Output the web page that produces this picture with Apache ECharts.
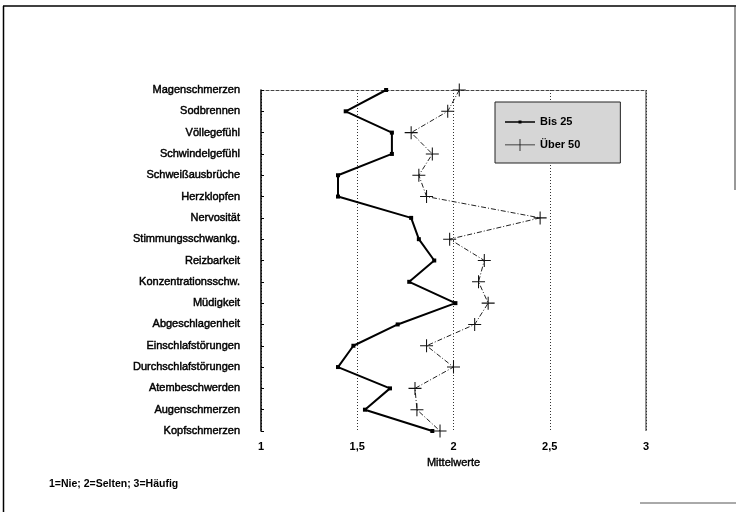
<!DOCTYPE html>
<html lang="de">
<head>
<meta charset="UTF-8">
<title>Mittelwerte</title>
<style>
  * { margin: 0; padding: 0; }
  body { background: #fff; }
  #chart { width: 736px; height: 512px; }
</style>
</head>
<body>
<div id="chart"></div>
<script src="https://cdn.jsdelivr.net/npm/echarts@6/dist/echarts.min.js"></script>
<script>
// Beschwerden, von oben nach unten
var beschwerden = ['Magenschmerzen', 'Sodbrennen', 'Völlegefühl', 'Schwindelgefühl',
  'Schweißausbrüche', 'Herzklopfen', 'Nervosität', 'Stimmungsschwankg.', 'Reizbarkeit',
  'Konzentrationsschw.', 'Müdigkeit', 'Abgeschlagenheit', 'Einschlafstörungen',
  'Durchschlafstörungen', 'Atembeschwerden', 'Augenschmerzen', 'Kopfschmerzen'];

var bis25 = [1.65, 1.44, 1.68, 1.68, 1.40, 1.40, 1.78, 1.82, 1.90, 1.77, 2.01, 1.71, 1.48, 1.40, 1.67, 1.54, 1.89];
var ueber50 = [2.03, 1.97, 1.78, 1.89, 1.82, 1.86, 2.45, 1.98, 2.16, 2.13, 2.18, 2.11, 1.86, 2.00, 1.80, 1.81, 1.93];

var xTicks = [1, 1.5, 2, 2.5, 3];

var plusIcon = 'path://M0,4.6h10v0.8h-10z M4.6,0h0.8v10h-0.8z';
// Legendensymbole (30x12)
var iconBis25 = 'path://M0,0 M30,12 M0,5.3h30v1.4h-30z M13.5,4.5h3v3h-3z';
var iconUeber50 = 'path://M0,5.5h30v0.8h-30z M14.6,0h0.8v12h-0.8z';

var chart = echarts.init(document.getElementById('chart'));

chart.setOption({
  animation: false,
  textStyle: { fontFamily: 'Liberation Sans, Arial, sans-serif' },
  title: {
    text: '1=Nie; 2=Selten; 3=Häufig',
    left: 49,
    top: 479,
    padding: 0,
    textStyle: { fontSize: 10.5, fontWeight: 'bold', color: '#000' }
  },
  grid: { left: 261, right: 90, top: 90, bottom: 81 },
  legend: {
    orient: 'vertical',
    left: 495,
    top: 102,
    padding: [14, 40, 12, 10],
    itemGap: 11,
    itemWidth: 30,
    itemHeight: 12,
    backgroundColor: '#d6d6d6',
    borderColor: '#222',
    borderWidth: 1,
    borderRadius: 0,
    textStyle: { fontSize: 11, fontWeight: 'bold', color: '#000' },
    data: [
      { name: 'Bis 25', icon: iconBis25, itemStyle: { color: '#000' } },
      { name: 'Über 50', icon: iconUeber50, itemStyle: { color: '#111' } }
    ]
  },
  xAxis: [{
    type: 'value',
    min: 1,
    max: 3,
    interval: 0.5,
    name: 'Mittelwerte',
    nameLocation: 'middle',
    nameGap: 26,
    nameTextStyle: { fontSize: 11, color: '#000', textBorderColor: '#000', textBorderWidth: 0.4 },
    axisLine: { lineStyle: { color: '#000', width: 1.5 } },
    axisTick: { show: false },
    axisLabel: {
      margin: 10,
      fontSize: 11,
      fontWeight: 'bold',
      color: '#000',
      formatter: function (v) {
        return xTicks.indexOf(v) >= 0 ? String(v).replace('.', ',') : '';
      }
    },
    splitLine: { show: true, lineStyle: { color: '#333', type: [1, 2], width: 1 } }
  }, {
    type: 'value',
    position: 'top',
    min: 1,
    max: 3,
    axisLine: { show: true, lineStyle: { color: '#444', type: [3, 2], width: 1 } },
    axisTick: { show: false },
    axisLabel: { show: false },
    splitLine: { show: false }
  }],
  yAxis: {
    type: 'category',
    data: beschwerden,
    inverse: true,
    boundaryGap: false,
    axisLine: { lineStyle: { color: '#000', width: 1.5 } },
    axisTick: { show: true, inside: true, length: 3, lineStyle: { color: '#000' } },
    axisLabel: {
      margin: 21,
      fontSize: 11,
      color: '#000',
      textBorderColor: '#000',
      textBorderWidth: 0.45
    },
    splitLine: { show: false }
  },
  series: [{
    name: 'Bis 25',
    type: 'line',
    data: bis25,
    symbol: 'rect',
    symbolSize: 4,
    itemStyle: { color: '#000' },
    lineStyle: { color: '#000', width: 2 }
  }, {
    name: 'Über 50',
    type: 'line',
    data: ueber50,
    symbol: plusIcon,
    symbolSize: 13,
    itemStyle: { color: '#111' },
    lineStyle: { color: '#222', width: 1, type: [5, 2, 1, 2] }
  }],
  graphic: [
    { type: 'line', shape: { x1: 3, y1: 6, x2: 736, y2: 6 }, style: { stroke: '#000', lineWidth: 1.5 } },
    { type: 'line', shape: { x1: 3.5, y1: 6, x2: 3.5, y2: 512 }, style: { stroke: '#000', lineWidth: 1.5 } },
    { type: 'line', shape: { x1: 735, y1: 6, x2: 735, y2: 190 }, style: { stroke: '#333', lineWidth: 1 } },
    { type: 'line', shape: { x1: 640, y1: 503, x2: 736, y2: 503 }, style: { stroke: '#555', lineWidth: 1 } },
    { type: 'line', shape: { x1: 646, y1: 90, x2: 646, y2: 431 }, style: { stroke: '#222', lineWidth: 1 } }
  ]
});
</script>
</body>
</html>
